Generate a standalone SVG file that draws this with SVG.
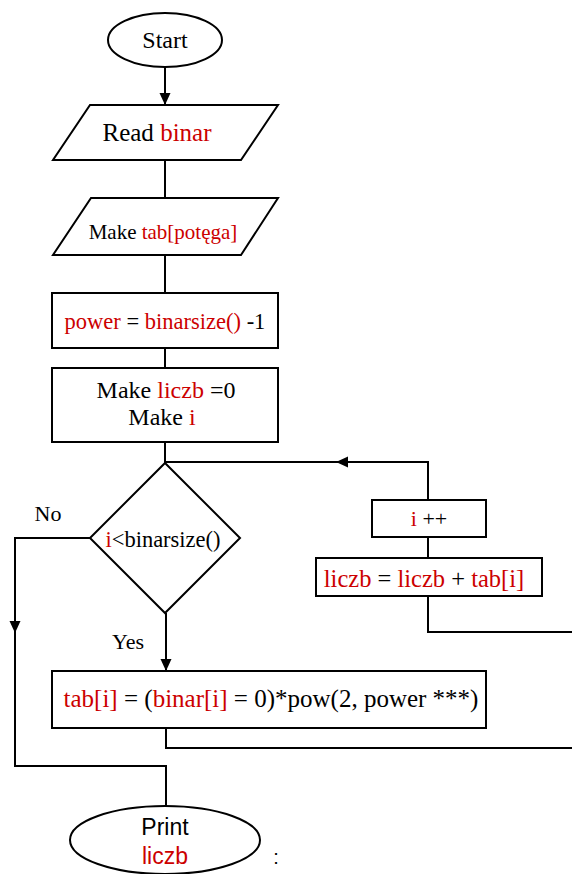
<svg xmlns="http://www.w3.org/2000/svg" width="572" height="874" viewBox="0 0 572 874">
<style>
.s{fill:#fff;stroke:#000;stroke-width:2}
.c{fill:none;stroke:#000;stroke-width:2}
text{font-family:"Liberation Serif","Times New Roman",serif;fill:#000;text-anchor:middle}
.r{fill:#cc0000}
.sans{font-family:"Liberation Sans",Arial,sans-serif}
</style>
<defs>
<marker id="ah" markerWidth="12" markerHeight="12" viewBox="0 0 12 12" refX="12" refY="6" orient="auto" markerUnits="userSpaceOnUse">
<path d="M0,0.5 L12,6 L0,11.5 Z" fill="#000"/>
</marker>
</defs>
<g id="connectors">
<path class="c" d="M165,68 V105" marker-end="url(#ah)"/>
<path class="c" d="M165,160 V198"/>
<path class="c" d="M165,255 V293"/>
<path class="c" d="M165,348 V368"/>
<path class="c" d="M165,442 V463"/>
<path class="c" d="M428,500 V462 H336" marker-end="url(#ah)"/>
<path class="c" d="M340,462 H165"/>
<path class="c" d="M428,537 V558"/>
<path class="c" d="M428,596 V632 H572"/>
<path class="c" d="M90,538 H15 V633" marker-end="url(#ah)"/>
<path class="c" d="M15,630 V766 H166 V806"/>
<path class="c" d="M166,613 V671" marker-end="url(#ah)"/>
<path class="c" d="M166,728 V748 H572"/>
</g>
<g id="start">
<ellipse class="s" cx="165" cy="40" rx="57" ry="27"/>
<text x="165" y="48" font-size="24">Start</text>
</g>
<g id="read">
<polygon class="s" points="90,105 278,105 241,160 53,160"/>
<text x="157" y="141" font-size="25">Read <tspan class="r">binar</tspan></text>
</g>
<g id="maketab">
<polygon class="s" points="91,198 278,198 241,255 53,255"/>
<text x="163" y="239" font-size="21">Make <tspan class="r">tab[potęga]</tspan></text>
</g>
<g id="power">
<rect class="s" x="52" y="293" width="226" height="55"/>
<text x="165" y="329" font-size="22.5"><tspan class="r">power</tspan> = <tspan class="r">binarsize()</tspan> -1</text>
</g>
<g id="init">
<rect class="s" x="52" y="368" width="226" height="74"/>
<text x="166" y="398" font-size="24">Make <tspan class="r">liczb</tspan> =0</text>
<text x="162" y="425" font-size="24">Make <tspan class="r">i</tspan></text>
</g>
<g id="cond">
<polygon class="s" points="165,463 240,538 165,613 90,538"/>
<text x="163" y="547" font-size="22.5"><tspan class="r">i</tspan>&lt;binarsize()</text>
<text x="48" y="521" font-size="22">No</text>
<text x="128" y="649" font-size="22">Yes</text>
</g>
<g id="incr">
<rect class="s" x="372" y="500" width="114" height="37"/>
<text x="429" y="526" font-size="22"><tspan class="r">i</tspan> ++</text>
</g>
<g id="sum">
<rect class="s" x="316" y="558" width="226" height="38"/>
<text x="424" y="587" font-size="24.5" class="r">liczb <tspan fill="#000">=</tspan> liczb <tspan fill="#000">+</tspan> tab[i]</text>
</g>
<g id="tab">
<rect class="s" x="52" y="671" width="434" height="57"/>
<text x="271" y="707" font-size="25"><tspan class="r">tab[i]</tspan> = (<tspan class="r">binar[i]</tspan> = 0)*pow(2, power ***)</text>
</g>
<g id="print">
<ellipse class="s" cx="165" cy="840" rx="95" ry="34"/>
<text class="sans" x="165" y="835" font-size="23">Print</text>
<text class="sans r" x="165" y="864" font-size="23">liczb</text>
<text class="sans" x="276" y="864" font-size="20">:</text>
</g>
</svg>
